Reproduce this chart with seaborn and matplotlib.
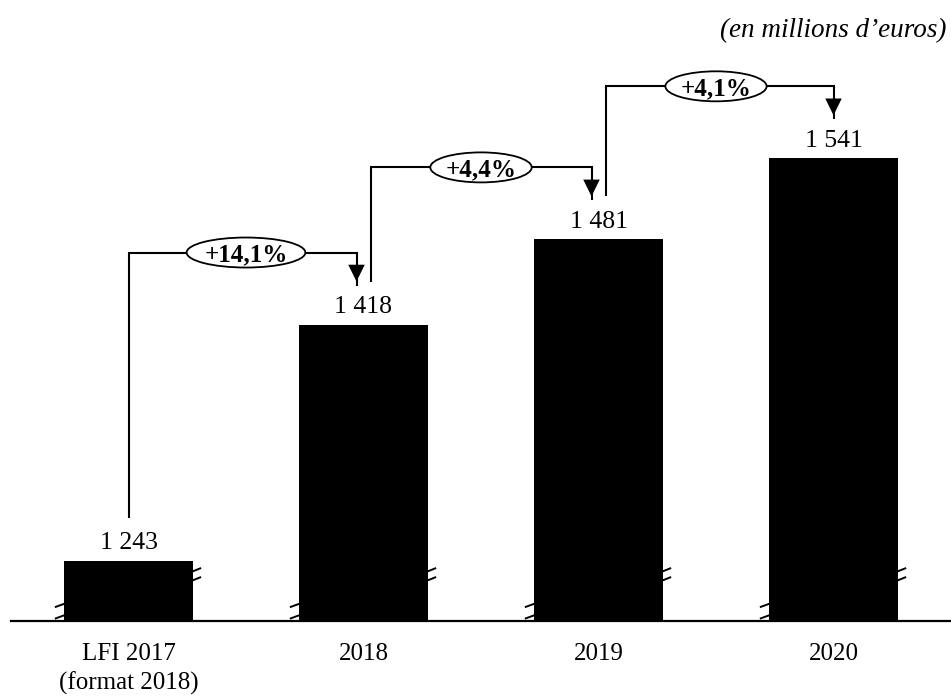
import matplotlib
matplotlib.use("Agg")
import matplotlib.pyplot as plt
import seaborn as sns
import pandas as pd
from matplotlib.patches import Ellipse

# --- data -------------------------------------------------------------
categories = ["LFI 2017\n(format 2018)", "2018", "2019", "2020"]
values = [1243, 1418, 1481, 1541]
unit_note = "(en millions d\u2019euros)"


def fmt_amount(v):
    return f"{v:,}".replace(",", " ")


def fmt_growth(a, b):
    return "+" + f"{(b / a - 1) * 100:.1f}".replace(".", ",") + "%"


value_labels = [fmt_amount(v) for v in values]
growth_labels = [fmt_growth(a, b) for a, b in zip(values[:-1], values[1:])]

# --- figure geometry --------------------------------------------------
W, H, DPI = 951, 696, 100
AX_LEFT, AX_BOTTOM, AX_W, AX_H = 11, 75, 940, 621  # pixels
Y_FLOOR = 1198.6            # value at the (truncated) baseline
PX_PER_UNIT = 1.3513        # vertical pixels per million euros

sns.set_theme(style="white")
plt.rcParams["font.family"] = ["Liberation Serif", "DejaVu Serif"]

fig = plt.figure(figsize=(W / DPI, H / DPI), dpi=DPI)
ax = fig.add_axes([AX_LEFT / W, AX_BOTTOM / H, AX_W / W, AX_H / H])

df = pd.DataFrame({"categorie": categories, "montant": values})
BAR_W = 0.55
sns.barplot(data=df, x="categorie", y="montant", color="black",
            saturation=1, width=BAR_W, linewidth=0, ax=ax, zorder=3)

ax.set_xlim(-0.5, 3.5)
ax.set_ylim(Y_FLOOR, Y_FLOOR + AX_H / PX_PER_UNIT)
ax.set_xlabel("")
ax.set_ylabel("")
ax.set_yticks([])
for side in ("top", "right", "left"):
    ax.spines[side].set_visible(False)
ax.spines["bottom"].set_linewidth(1.6)
ax.spines["bottom"].set_color("black")
ax.tick_params(axis="x", length=0, pad=15.5, labelsize=18, colors="black")
for t in ax.get_xticklabels():
    t.set_linespacing(1.38)

UX = AX_W / 4.0  # pixels per category step


def dx(px):
    return px / UX


def dy(px):
    return px / PX_PER_UNIT


# --- value labels ------------------------------------------------------
for i, (v, lab) in enumerate(zip(values, value_labels)):
    ax.annotate(lab, xy=(i, v), xytext=(0, 8.3), textcoords="offset points",
                ha="center", va="baseline", fontsize=18.5, color="black",
                zorder=5)

# --- axis-break marks on each bar --------------------------------------
mark_kw = dict(color="black", lw=1.4, solid_capstyle="butt", zorder=2)
for i in range(len(values)):
    left, right = i - BAR_W / 2, i + BAR_W / 2
    for h in (15.5, 4.0):
        yc = Y_FLOOR + dy(h)
        ax.plot([left - dx(9), left + dx(2)], [yc - dy(1.7), yc + dy(2.3)], **mark_kw)
    for h in (51.0, 42.0):
        yc = Y_FLOOR + dy(h)
        ax.plot([right - dx(2), right + dx(8)], [yc - dy(2.0), yc + dy(2.0)], **mark_kw)

# --- growth connectors -------------------------------------------------
GAP = dy(43)      # space between a value and the connector end
LEVEL = dy(72)    # height of the horizontal run above the next value
line_kw = dict(color="black", lw=1.5, solid_capstyle="butt",
               solid_joinstyle="miter", zorder=4)

fig.canvas.draw()
renderer = fig.canvas.get_renderer()

n = len(growth_labels)
for i, lab in enumerate(growth_labels):
    x0 = i + (dx(7) if i > 0 else 0.0)
    x1 = i + 1 - (dx(7) if i < n - 1 else 0.0)
    y_start = values[i] + GAP
    y_run = values[i + 1] + LEVEL
    y_tip = values[i + 1] + GAP
    ax.plot([x0, x0, x1, x1], [y_start, y_run, y_run, y_tip - dy(4)], **line_kw)
    ax.annotate("", xy=(x1, y_tip), xytext=(x1, y_tip + dy(14)),
                arrowprops=dict(arrowstyle="-|>,head_length=0.55,head_width=0.27",
                                mutation_scale=22, color="black", lw=0,
                                shrinkA=0, shrinkB=0), zorder=4)
    txt = ax.text(i + 0.5, y_run, lab, ha="center", va="center_baseline",
                  fontsize=18, fontweight="bold", color="black", zorder=7)
    tw = txt.get_window_extent(renderer).width
    ax.add_patch(Ellipse((i + 0.5, y_run), width=dx(tw * 1.40 + 2),
                         height=dy(30), facecolor="white", edgecolor="black",
                         lw=1.3, zorder=6))

fig.text(946 / W, 1 - 37 / H, unit_note, ha="right", va="baseline",
         fontsize=19.5, style="italic", color="black")

fig.savefig("out.png", dpi=DPI)
